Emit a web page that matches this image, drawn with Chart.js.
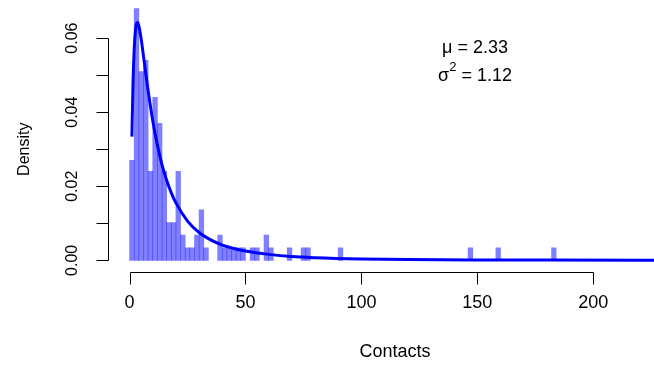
<!DOCTYPE html>
<html>
<head>
<meta charset="utf-8">
<script src="https://cdn.jsdelivr.net/npm/chart.js@4.4.1/dist/chart.umd.min.js"></script>
<style>
  html, body { margin: 0; padding: 0; background: #fff; }
</style>
</head>
<body>
<canvas id="histChart" width="654" height="366"></canvas>
<script>
// Histogram of contacts (density scale), bins 2 wide, left edges
const binWidth = 2;
const binLeft = [0, 2, 4, 6, 8, 10, 12, 14, 16, 18, 20, 22, 24, 26, 28, 30, 32,
                 38, 40, 42, 44, 46, 48, 52, 54, 58, 60, 68, 74, 76, 90, 146, 158, 182];
const binDensity = [0.027, 0.068, 0.051, 0.054, 0.024, 0.044, 0.037, 0.024, 0.0102, 0.0102,
                    0.024, 0.0068, 0.0034, 0.0034, 0.0068, 0.0136, 0.0034,
                    0.0068, 0.0034, 0.0034, 0.0034, 0.0034, 0.0034, 0.0034, 0.0034,
                    0.0068, 0.0034, 0.0034, 0.0034, 0.0034, 0.0034, 0.0034, 0.0034, 0.0034];

// Fitted log-normal density
const curveX = [1, 1.5, 2, 2.5, 3, 3.5, 4, 5, 6, 7, 8, 9, 10, 12, 14, 16, 18, 20,
                25, 30, 35, 40, 45, 50, 60, 70, 80, 100, 120, 150, 180, 230];
const curveY = [0.0334, 0.0481, 0.0570, 0.0618, 0.0639, 0.0642, 0.0633, 0.0598, 0.0552,
                0.0504, 0.0458, 0.0416, 0.0377, 0.0311, 0.0258, 0.0216, 0.0182, 0.0155,
                0.0106, 0.0075, 0.0055, 0.0041, 0.0032, 0.0025, 0.0016, 0.0010, 0.0007,
                0.00037, 0.00021, 0.0001, 0.00005, 0.00002];

const xTicks = [0, 50, 100, 150, 200];
const yTicks = [0, 0.01, 0.02, 0.03, 0.04, 0.05, 0.06];
const yLabelled = [0, 0.02, 0.04, 0.06];
const fitMu = '2.33';
const fitSigma2 = '1.12';

const FONT = '"Liberation Sans", Arial, Helvetica, sans-serif';

// R-style axes: lines only between first and last tick, ticks pointing outward
const rAxes = {
    id: 'rAxes',
    afterDraw(chart) {
        const { ctx, chartArea, scales: { x, y } } = chart;
        const tickLen = 12;
        const axY = Math.round(chartArea.bottom) + 0.5;
        const axX = Math.round(chartArea.left) + 0.5;
        ctx.save();
        ctx.strokeStyle = '#000';
        ctx.fillStyle = '#000';
        ctx.lineWidth = 1;

        // x axis
        ctx.beginPath();
        ctx.moveTo(Math.round(x.getPixelForValue(xTicks[0])) + 0.5, axY);
        ctx.lineTo(Math.round(x.getPixelForValue(xTicks[xTicks.length - 1])) + 0.5, axY);
        xTicks.forEach(v => {
            const px = Math.round(x.getPixelForValue(v)) + 0.5;
            ctx.moveTo(px, axY);
            ctx.lineTo(px, axY + tickLen);
        });
        ctx.stroke();

        ctx.font = '18px ' + FONT;
        ctx.textAlign = 'center';
        ctx.textBaseline = 'middle';
        xTicks.forEach(v => ctx.fillText(String(v), x.getPixelForValue(v), axY + 31));

        // y axis
        ctx.beginPath();
        ctx.moveTo(axX, Math.round(y.getPixelForValue(yTicks[0])) + 0.5);
        ctx.lineTo(axX, Math.round(y.getPixelForValue(yTicks[yTicks.length - 1])) + 0.5);
        yTicks.forEach(v => {
            const py = Math.round(y.getPixelForValue(v)) + 0.5;
            ctx.moveTo(axX, py);
            ctx.lineTo(axX - tickLen, py);
        });
        ctx.stroke();

        ctx.font = '16px ' + FONT;
        yLabelled.forEach(v => {
            ctx.save();
            ctx.translate(axX - 36, y.getPixelForValue(v));
            ctx.rotate(-Math.PI / 2);
            ctx.fillText(v.toFixed(2), 0, 0);
            ctx.restore();
        });

        // axis titles
        ctx.save();
        ctx.translate(25, y.getPixelForValue(0.03));
        ctx.rotate(-Math.PI / 2);
        ctx.fillText('Density', 0, 0);
        ctx.restore();
        ctx.font = '18px ' + FONT;
        ctx.fillText('Contacts', 395, 352);

        // fit parameters
        const cx = x.getPixelForValue(149);
        ctx.fillText('\u03BC = ' + fitMu, cx, y.getPixelForValue(0.0574));

        const sig = '\u03C3', rest = ' = ' + fitSigma2;
        const wSig = ctx.measureText(sig).width;
        const wRest = ctx.measureText(rest).width;
        ctx.font = '13px ' + FONT;
        const wSup = ctx.measureText('2').width;
        const left = cx - (wSig + wSup + wRest) / 2;
        const py = y.getPixelForValue(0.0498);
        ctx.textAlign = 'left';
        ctx.font = '18px ' + FONT;
        ctx.fillText(sig, left, py);
        ctx.font = '13px ' + FONT;
        ctx.fillText('2', left + wSig, py - 8);
        ctx.font = '18px ' + FONT;
        ctx.fillText(rest, left + wSig + wSup, py);
        ctx.restore();
    }
};

new Chart(document.getElementById('histChart'), {
    data: {
        datasets: [
            {
                type: 'line',
                data: curveX.map((v, i) => ({ x: v, y: curveY[i] })),
                borderColor: '#0000ff',
                borderWidth: 3,
                pointRadius: 0,
                cubicInterpolationMode: 'monotone',
                fill: false,
                order: 0
            },
            {
                type: 'bar',
                data: binLeft.map((v, i) => ({ x: v + binWidth / 2, y: binDensity[i] })),
                backgroundColor: 'rgba(0, 0, 255, 0.5)',
                borderWidth: 0,
                barPercentage: 1,
                categoryPercentage: 1,
                order: 1
            }
        ]
    },
    options: {
        responsive: false,
        animation: false,
        layout: { padding: { left: 108, right: 0, top: 0, bottom: 94.4 } },
        plugins: { legend: { display: false }, tooltip: { enabled: false } },
        scales: {
            x: { type: 'linear', min: -9.3, max: 226.2, offset: false, display: false },
            y: { type: 'linear', min: -0.00305, max: 0.0703, display: false }
        }
    },
    plugins: [rAxes]
});
</script>
</body>
</html>
